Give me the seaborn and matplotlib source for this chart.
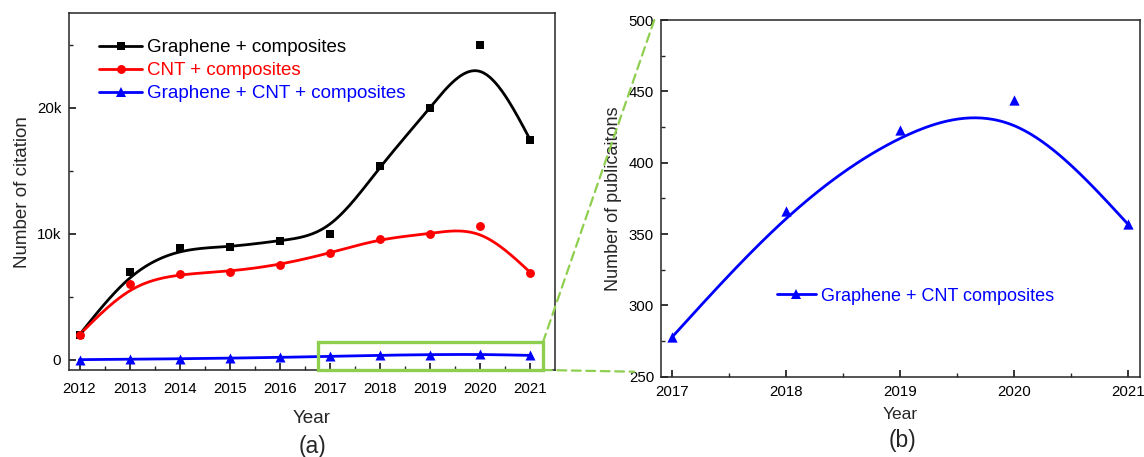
import numpy as np
import pandas as pd
import matplotlib
matplotlib.use("Agg")
import matplotlib.pyplot as plt
from matplotlib.lines import Line2D
from matplotlib.patches import Rectangle, ConnectionPatch
from matplotlib.ticker import MultipleLocator, FixedLocator
import seaborn as sns

# ---- data -------------------------------------------------------------
years = [2012, 2013, 2014, 2015, 2016, 2017, 2018, 2019, 2020, 2021]
graphene_cit = [2000, 7000, 8860, 8940, 9470, 9950, 15420, 19970, 24970, 17430]
cnt_cit = [2000, 6000, 6830, 7010, 7540, 8470, 9630, 10000, 10630, 6930]
hybrid_cit = [20, 50, 90, 140, 200, 278, 366, 423, 444, 357]

pub_years = [2017, 2018, 2019, 2020, 2021]
hybrid_pubs = [278, 366, 423, 444, 357]

label_graphene = "Graphene + composites"
label_cnt = "CNT + composites"
label_hybrid = "Graphene + CNT + composites"
label_pubs = "Graphene + CNT composites"

cit_ticks = [0, 10000, 20000]
cit_tick_labels = ["0", "10k", "20k"]


def bspline_curve(xs, ys, per_seg=60):
    """Uniform cubic B-spline with the points as control polygon.
    Reflected phantom points make the curve start and end on the data."""
    P = np.column_stack([xs, ys]).astype(float)
    Q = np.vstack([2 * P[0] - P[1], P, 2 * P[-1] - P[-2]])
    u = np.linspace(0, 1, per_seg, endpoint=False)[:, None]
    b0 = (1 - u) ** 3
    b1 = 3 * u ** 3 - 6 * u ** 2 + 4
    b2 = -3 * u ** 3 + 3 * u ** 2 + 3 * u + 1
    b3 = u ** 3
    segs = []
    for i in range(len(Q) - 3):
        segs.append((b0 * Q[i] + b1 * Q[i + 1] + b2 * Q[i + 2] + b3 * Q[i + 3]) / 6)
    segs.append(P[-1][None, :])
    C = np.vstack(segs)
    return pd.DataFrame({"x": C[:, 0], "y": C[:, 1]})


sns.set_theme(style="ticks")
plt.rcParams["font.family"] = ["Liberation Sans", "DejaVu Sans"]
plt.rcParams["axes.linewidth"] = 1.1
plt.rcParams["xtick.direction"] = "in"
plt.rcParams["ytick.direction"] = "in"

fig = plt.figure(figsize=(11.44, 4.57), dpi=100)
ax1 = fig.add_axes([0.0603, 0.1904, 0.4248, 0.7805])
ax2 = fig.add_axes([0.5778, 0.1757, 0.4187, 0.7805])

LW = 2.0
series = [
    (graphene_cit, "black", "s", 6.0, label_graphene),
    (cnt_cit, "#ff0000", "o", 6.4, label_cnt),
    (hybrid_cit, "#0000ff", "^", 7.2, label_hybrid),
]

handles = []
for vals, col, mk, ms, lab in series:
    curve = bspline_curve(years, vals)
    sns.lineplot(data=curve, x="x", y="y", sort=False, estimator=None,
                 color=col, lw=LW, ax=ax1, legend=False)
    pts = pd.DataFrame({"year": years, "value": vals})
    sns.scatterplot(data=pts, x="year", y="value", marker=mk, s=ms ** 2,
                    color=col, linewidth=0, ax=ax1, legend=False, zorder=3)
    handles.append(Line2D([0], [0], color=col, lw=LW, marker=mk, markersize=ms,
                          markeredgewidth=0, label=lab))

ax1.set_xlim(2011.79, 2021.49)
ax1.set_ylim(-800, 27500)
ax1.xaxis.set_major_locator(FixedLocator(years))
ax1.xaxis.set_minor_locator(MultipleLocator(0.5))
ax1.set_yticks(cit_ticks)
ax1.set_yticklabels(cit_tick_labels)
ax1.yaxis.set_minor_locator(MultipleLocator(5000))
ax1.tick_params(which="major", length=5, width=1.1, labelsize=10.8, pad=9, colors="black")
ax1.tick_params(axis="y", which="major", pad=5.5)
ax1.tick_params(which="minor", length=3, width=1.0)
ax1.set_xlabel("Year", fontsize=13.6, labelpad=10)
ax1.set_ylabel("Number of citation", fontsize=13.5, labelpad=4)

leg1 = ax1.legend(handles=handles, loc="upper left", bbox_to_anchor=(0.062, 0.927),
                  frameon=False, fontsize=13.5, handlelength=2.3, handletextpad=0.25,
                  labelspacing=0.31, borderpad=0, borderaxespad=0)
for txt, (_, col, _, _, _) in zip(leg1.get_texts(), series):
    txt.set_color(col)

# zoom box around the 2017-2021 range of the blue series
box_x0, box_x1, box_y0, box_y1 = 2016.77, 2021.25, -800, 1400
ax1.add_patch(Rectangle((box_x0, box_y0), box_x1 - box_x0, box_y1 - box_y0,
                        fill=False, edgecolor="#8fcf4f", lw=2.4, zorder=5, clip_on=False))

# ---- right panel: publications --------------------------------------
curve2 = bspline_curve(pub_years, hybrid_pubs)
sns.lineplot(data=curve2, x="x", y="y", sort=False, estimator=None,
             color="#0000ff", lw=LW, ax=ax2, legend=False)
pts2 = pd.DataFrame({"year": pub_years, "value": hybrid_pubs})
sns.scatterplot(data=pts2, x="year", y="value", marker="^", s=7.4 ** 2,
                color="#0000ff", linewidth=0, ax=ax2, legend=False, zorder=3)
ax2.set_xlim(2016.90, 2021.107)
ax2.set_ylim(250, 500)
ax2.xaxis.set_major_locator(FixedLocator(pub_years))
ax2.xaxis.set_minor_locator(MultipleLocator(0.5))
ax2.yaxis.set_major_locator(MultipleLocator(50))
ax2.yaxis.set_minor_locator(MultipleLocator(25))
ax2.tick_params(which="major", length=5, width=1.1, labelsize=10.8, pad=6, colors="black")
ax2.tick_params(axis="y", which="major", pad=5)
ax2.tick_params(which="minor", length=3, width=1.0)
ax2.set_xlabel("Year", fontsize=12.5, labelpad=6)
ax2.set_ylabel("Number of publicaitons", fontsize=13, labelpad=5)

h2 = Line2D([0], [0], color="#0000ff", lw=LW, marker="^", markersize=7.4,
            markeredgewidth=0, label=label_pubs)
leg2 = ax2.legend(handles=[h2], loc="center left", bbox_to_anchor=(0.242, 0.226),
                  frameon=False, fontsize=13, handlelength=2.16, handletextpad=0.26,
                  borderpad=0, borderaxespad=0)
leg2.get_texts()[0].set_color("#0000ff")

# dashed connectors from the zoom box to the right panel
for xyA, xyB in [((box_x1, box_y1), (-0.014, 1.0)),
                 ((box_x1, box_y0), (-0.056, 0.014))]:
    con = ConnectionPatch(xyA=xyA, coordsA=ax1.transData,
                          xyB=xyB, coordsB=ax2.transAxes,
                          color="#8fcf4f", lw=1.6, linestyle=(0, (4, 2.5)), zorder=5)
    fig.add_artist(con)

fig.text(0.2736, 0.022, "(a)", fontsize=16.5, ha="center", va="center")
fig.text(0.789, 0.037, "(b)", fontsize=16.5, ha="center", va="center")

fig.savefig("out.png", dpi=100)
